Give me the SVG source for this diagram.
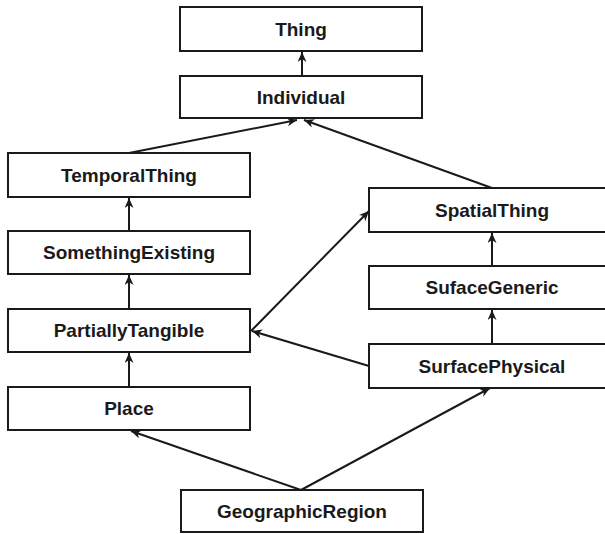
<svg xmlns="http://www.w3.org/2000/svg" width="605" height="534" viewBox="0 0 605 534">
<defs>
<style>
.box{fill:#fff;stroke:#1a1a1a;stroke-width:2}
.lbl{font-family:"Liberation Sans",Arial,sans-serif;font-weight:bold;font-size:19px;fill:#1a1a1a;text-anchor:middle;dominant-baseline:central}
.edge{stroke:#1a1a1a;stroke-width:2;fill:none;marker-end:url(#arr)}
</style>
<marker id="arr" markerUnits="userSpaceOnUse" markerWidth="10" markerHeight="9" viewBox="0 0 10 9" refX="10" refY="4.5" orient="auto">
<path d="M0,0 L10,4.5 L0,9 L3,4.5 z" fill="#1a1a1a"/>
</marker>
</defs>
<rect width="605" height="534" fill="#fff"/>
<g id="connectors">
<line class="edge" x1="302" y1="76" x2="302" y2="52"/>
<line class="edge" x1="129" y1="153" x2="297" y2="120"/>
<line class="edge" x1="492" y1="188" x2="304" y2="120"/>
<line class="edge" x1="129" y1="231" x2="129" y2="198"/>
<line class="edge" x1="129" y1="309" x2="129" y2="275"/>
<line class="edge" x1="129" y1="387" x2="129" y2="353"/>
<line class="edge" x1="251" y1="331" x2="369" y2="211"/>
<line class="edge" x1="369" y1="366" x2="252" y2="331"/>
<line class="edge" x1="492" y1="266" x2="492" y2="233"/>
<line class="edge" x1="492" y1="344" x2="492" y2="310"/>
<line class="edge" x1="301" y1="490" x2="131" y2="431"/>
<line class="edge" x1="301" y1="490" x2="490" y2="388"/>
</g>
<g id="Thing"><rect class="box" x="180" y="7" width="242" height="44"/><text class="lbl" x="301" y="29">Thing</text></g>
<g id="Individual"><rect class="box" x="180" y="76" width="242" height="42"/><text class="lbl" x="301" y="97">Individual</text></g>
<g id="TemporalThing"><rect class="box" x="8" y="153" width="242" height="44"/><text class="lbl" x="129" y="175">TemporalThing</text></g>
<g id="SomethingExisting"><rect class="box" x="8" y="231" width="242" height="43"/><text class="lbl" x="129" y="252.5">SomethingExisting</text></g>
<g id="PartiallyTangible"><rect class="box" x="8" y="309" width="242" height="43"/><text class="lbl" x="129" y="330.5">PartiallyTangible</text></g>
<g id="Place"><rect class="box" x="8" y="387" width="242" height="43"/><text class="lbl" x="129" y="408.5">Place</text></g>
<g id="SpatialThing"><rect class="box" x="369" y="188" width="246" height="44"/><text class="lbl" x="492" y="210">SpatialThing</text></g>
<g id="SufaceGeneric"><rect class="box" x="369" y="266" width="246" height="43"/><text class="lbl" x="492" y="287.5">SufaceGeneric</text></g>
<g id="SurfacePhysical"><rect class="box" x="369" y="344" width="246" height="44"/><text class="lbl" x="492" y="366">SurfacePhysical</text></g>
<g id="GeographicRegion"><rect class="box" x="181" y="490" width="242" height="42"/><text class="lbl" x="302" y="511">GeographicRegion</text></g>
</svg>
